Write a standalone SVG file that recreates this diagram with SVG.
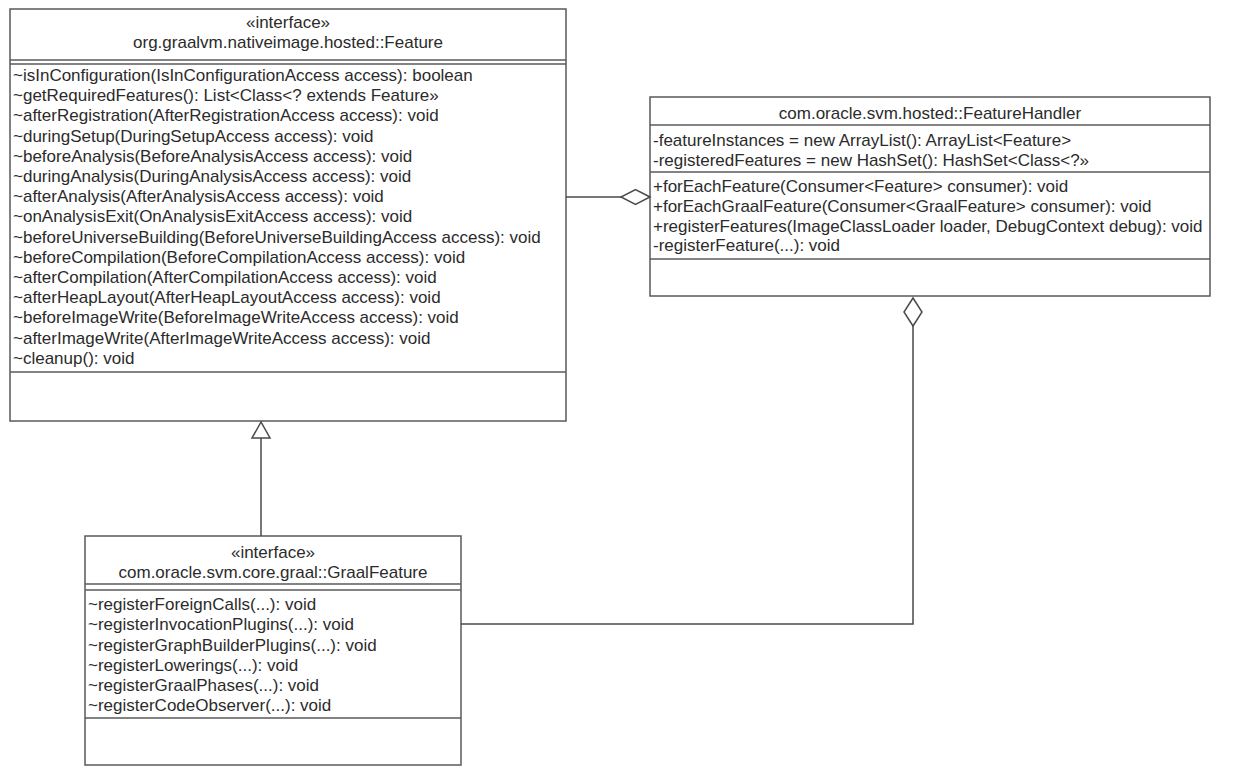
<svg xmlns="http://www.w3.org/2000/svg" width="1247" height="768" viewBox="0 0 1247 768">
<style>
.box{fill:#fff;stroke:#5a5a5a;stroke-width:1.5}
.sep{stroke:#5a5a5a;stroke-width:1.5;fill:none}
.t{font-family:"Liberation Sans",Arial,sans-serif;font-size:17px;fill:#2b2b2b}
.c{text-anchor:middle}
.conn{stroke:#4a4a4a;stroke-width:1.5;fill:none}
.head{stroke:#4a4a4a;stroke-width:1.5;fill:#fff}
</style>
<rect width="1247" height="768" fill="#fff"/>
<g id="Feature">
<rect class="box" x="10" y="9" width="556" height="412"/>
<text class="t c" x="288" y="28">«interface»</text>
<text class="t c" x="288" y="48">org.graalvm.nativeimage.hosted::Feature</text>
<line class="sep" x1="10" y1="60" x2="566" y2="60"/>
<line class="sep" x1="10" y1="64" x2="566" y2="64"/>
<text class="t" x="13" y="81">~isInConfiguration(IsInConfigurationAccess access): boolean</text>
<text class="t" x="13" y="101.2">~getRequiredFeatures(): List&lt;Class&lt;? extends Feature»</text>
<text class="t" x="13" y="121.4">~afterRegistration(AfterRegistrationAccess access): void</text>
<text class="t" x="13" y="141.6">~duringSetup(DuringSetupAccess access): void</text>
<text class="t" x="13" y="161.8">~beforeAnalysis(BeforeAnalysisAccess access): void</text>
<text class="t" x="13" y="182">~duringAnalysis(DuringAnalysisAccess access): void</text>
<text class="t" x="13" y="202.2">~afterAnalysis(AfterAnalysisAccess access): void</text>
<text class="t" x="13" y="222.4">~onAnalysisExit(OnAnalysisExitAccess access): void</text>
<text class="t" x="13" y="242.6">~beforeUniverseBuilding(BeforeUniverseBuildingAccess access): void</text>
<text class="t" x="13" y="262.8">~beforeCompilation(BeforeCompilationAccess access): void</text>
<text class="t" x="13" y="283">~afterCompilation(AfterCompilationAccess access): void</text>
<text class="t" x="13" y="303.2">~afterHeapLayout(AfterHeapLayoutAccess access): void</text>
<text class="t" x="13" y="323.4">~beforeImageWrite(BeforeImageWriteAccess access): void</text>
<text class="t" x="13" y="343.6">~afterImageWrite(AfterImageWriteAccess access): void</text>
<text class="t" x="13" y="363.8">~cleanup(): void</text>
<line class="sep" x1="10" y1="372" x2="566" y2="372"/>
</g>
<g id="FeatureHandler">
<rect class="box" x="650" y="97" width="560" height="199"/>
<text class="t c" x="930" y="119">com.oracle.svm.hosted::FeatureHandler</text>
<line class="sep" x1="650" y1="125" x2="1210" y2="125"/>
<text class="t" x="653" y="146">-featureInstances = new ArrayList(): ArrayList&lt;Feature&gt;</text>
<text class="t" x="653" y="166">-registeredFeatures = new HashSet(): HashSet&lt;Class&lt;?»</text>
<line class="sep" x1="650" y1="172" x2="1210" y2="172"/>
<text class="t" x="653" y="192">+forEachFeature(Consumer&lt;Feature&gt; consumer): void</text>
<text class="t" x="653" y="212">+forEachGraalFeature(Consumer&lt;GraalFeature&gt; consumer): void</text>
<text class="t" x="653" y="232">+registerFeatures(ImageClassLoader loader, DebugContext debug): void</text>
<text class="t" x="653" y="251">-registerFeature(...): void</text>
<line class="sep" x1="650" y1="259" x2="1210" y2="259"/>
</g>
<g id="GraalFeature">
<rect class="box" x="85" y="536" width="376" height="229"/>
<text class="t c" x="273" y="558">«interface»</text>
<text class="t c" x="273" y="578">com.oracle.svm.core.graal::GraalFeature</text>
<line class="sep" x1="85" y1="584" x2="461" y2="584"/>
<line class="sep" x1="85" y1="590" x2="461" y2="590"/>
<text class="t" x="88" y="610">~registerForeignCalls(...): void</text>
<text class="t" x="88" y="630">~registerInvocationPlugins(...): void</text>
<text class="t" x="88" y="650.5">~registerGraphBuilderPlugins(...): void</text>
<text class="t" x="88" y="670.5">~registerLowerings(...): void</text>
<text class="t" x="88" y="691">~registerGraalPhases(...): void</text>
<text class="t" x="88" y="711">~registerCodeObserver(...): void</text>
<line class="sep" x1="85" y1="718" x2="461" y2="718"/>
</g>
<g id="connectors">
<line class="conn" x1="261" y1="438" x2="261" y2="536"/>
<polygon class="head" points="261,422 252,438 270,438"/>
<line class="conn" x1="566" y1="197" x2="621" y2="197"/>
<polygon class="head" points="650,197 635.5,189.5 621,197 635.5,204.5"/>
<polyline class="conn" points="461,624 913,624 913,326"/>
<polygon class="head" points="913,298 904,312 913,326 922,312"/>
</g>
</svg>
